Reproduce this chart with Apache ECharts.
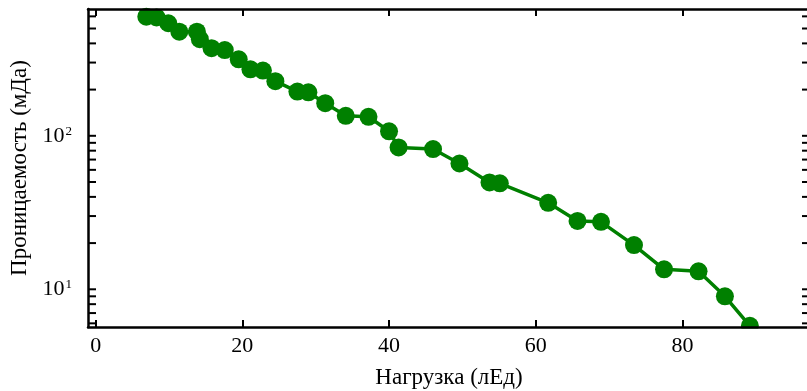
<!DOCTYPE html>
<html>
<head>
<meta charset="utf-8">
<script src="https://cdn.jsdelivr.net/npm/echarts@6/dist/echarts.min.js"></script>
<style>
  html, body { margin: 0; padding: 0; background: #fff; }
  #chart { width: 807px; height: 391px; }
</style>
</head>
<body>
<div id="chart"></div>
<script>
// values
const loadValues = [6.9, 8.3, 9.9, 11.4, 13.8, 14.2, 15.8, 17.6, 19.5, 21.1, 22.8, 24.5, 27.5, 29.0, 31.3,
  34.1, 37.2, 40.0, 41.3, 46.0, 49.6, 53.7, 55.1, 61.7, 65.7, 68.9, 73.4, 77.5, 82.2, 85.8, 89.2];
const permeabilityValues = [597, 590, 541, 477, 477, 426, 372, 362, 315, 271, 266, 227, 194, 192, 163,
  135, 133, 107, 84, 82, 66, 49.7, 49.0, 36.6, 27.9, 27.5, 19.4, 13.5, 13.1, 9.0, 5.78];

const xTicks = [0, 20, 40, 60, 80];
const yMajorTicks = [10, 100];
const yMinorTicks = [6, 7, 8, 9, 20, 30, 40, 50, 60, 70, 80, 90, 200, 300, 400, 500, 600];

const xMin = -1.05, xMax = 97.4;
const yMin = 5.68, yMax = 670;

const FONT = 'Liberation Serif';
const GREEN = '#008000';

const chart = echarts.init(document.getElementById('chart'));

const option = {
  animation: false,
  backgroundColor: '#fff',
  grid: { left: 88, right: -3, top: 9, bottom: 64, containLabel: false, outerBoundsMode: 'none' },
  xAxis: [
    {
      type: 'value', min: xMin, max: xMax, z: 10,
      name: 'Нагрузка (лЕд)', nameLocation: 'middle', nameGap: 39,
      nameTextStyle: { fontFamily: FONT, fontSize: 23, color: '#000' },
      splitLine: { show: false },
      axisLine: { onZero: false, lineStyle: { color: '#000', width: 2.5 } },
      axisTick: { inside: true, length: 7, customValues: xTicks, lineStyle: { color: '#000', width: 2 } },
      axisLabel: { customValues: xTicks, margin: 8, fontFamily: FONT, fontSize: 22, color: '#000' }
    },
    {
      type: 'value', position: 'top', min: xMin, max: xMax, z: 10,
      splitLine: { show: false },
      axisLine: { onZero: false, lineStyle: { color: '#000', width: 2.5 } },
      axisTick: { inside: true, length: 7, customValues: xTicks, lineStyle: { color: '#000', width: 2 } },
      axisLabel: { show: false }
    }
  ],
  yAxis: [
    {
      type: 'log', logBase: 10, min: yMin, max: yMax, z: 10,
      name: 'Проницаемость (мДа)', nameLocation: 'middle', nameGap: 55,
      nameTextStyle: { fontFamily: FONT, fontSize: 23, color: '#000' },
      splitLine: { show: false },
      axisLine: { onZero: false, lineStyle: { color: '#000', width: 2.5 } },
      axisTick: { show: false },
      axisLabel: {
        customValues: yMajorTicks,
        margin: 16,
        formatter: v => {
          const p = Math.round(Math.log10(v));
          return '{b|10}{s|' + p + '}';
        },
        rich: {
          b: { fontFamily: FONT, fontSize: 22, color: '#000', lineHeight: 22 },
          s: { fontFamily: FONT, fontSize: 13, color: '#000', lineHeight: 22, verticalAlign: 'top', padding: [0, 0, 0, 1] }
        }
      }
    },
    {
      type: 'log', logBase: 10, min: yMin, max: yMax, position: 'right', z: 10,
      splitLine: { show: false },
      axisLine: { onZero: false, lineStyle: { color: '#000', width: 2.5 } },
      axisTick: { show: false },
      axisLabel: { show: false }
    }
  ],
  series: [
    {
      type: 'line',
      data: loadValues.map((x, i) => [x, permeabilityValues[i]]),
      symbol: 'circle',
      symbolSize: 18,
      itemStyle: { color: GREEN },
      lineStyle: { color: GREEN, width: 3.5 }
    }
  ]
};

chart.setOption(option);

// log minor/major ticks on both vertical spines, placed through the axis scale
const leftX = chart.convertToPixel({ xAxisIndex: 0 }, xMin);
const rightX = chart.convertToPixel({ xAxisIndex: 0 }, xMax);
const bottomY = chart.convertToPixel({ yAxisIndex: 0 }, yMin);
const elements = [];
yMajorTicks.concat(yMinorTicks).forEach(v => {
  const y = chart.convertToPixel({ yAxisIndex: 0 }, v);
  elements.push({ type: 'line', z: 20, shape: { x1: leftX, y1: y, x2: leftX + 8, y2: y }, style: { stroke: '#000', lineWidth: 2 } });
  elements.push({ type: 'line', z: 20, shape: { x1: rightX, y1: y, x2: rightX - 8, y2: y }, style: { stroke: '#000', lineWidth: 2 } });
});
// mask below the plot so markers are clipped at the bottom spine
elements.push({ type: 'rect', z: 5, shape: { x: 0, y: bottomY + 1.5, width: 807, height: 391 - bottomY }, style: { fill: '#fff' } });
chart.setOption({ graphic: elements });
</script>
</body>
</html>
